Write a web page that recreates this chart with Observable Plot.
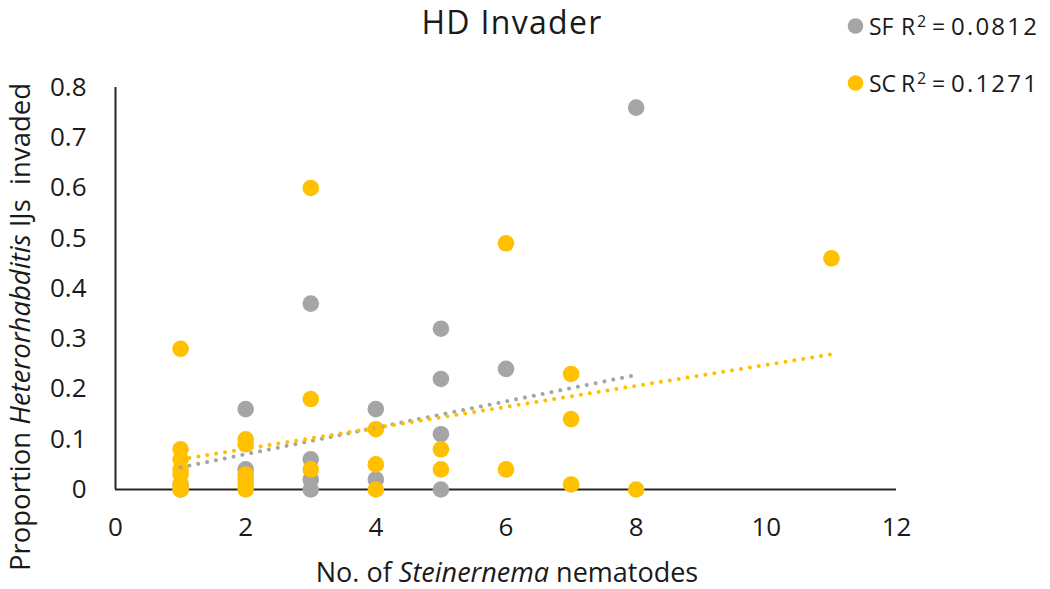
<!DOCTYPE html>
<html>
<head>
<meta charset="utf-8">
<script src="https://cdn.jsdelivr.net/npm/d3@7"></script>
<script src="https://cdn.jsdelivr.net/npm/@observablehq/plot@0.6"></script>
<style>
  html, body { margin: 0; padding: 0; background: #fff; }
  #chart svg { display: block; }
</style>
</head>
<body>
<div id="chart"></div>
<script>
// Steinernema feltiae (SF) observations
const sfCount = [1, 1, 2, 2, 3, 3, 3, 3, 4, 4, 5, 5, 5, 5, 6, 8];
const sfProp  = [0, 0.01, 0.16, 0.04, 0.37, 0.06, 0.02, 0, 0.16, 0.02, 0.32, 0.22, 0.11, 0, 0.24, 0.76];

// Steinernema carpocapsae (SC) observations
const scCount = [1, 1, 1, 1, 1, 1, 1, 2, 2, 2, 2, 2, 2, 3, 3, 3, 4, 4, 4, 5, 5, 6, 6, 7, 7, 7, 8, 11];
const scProp  = [0.28, 0.08, 0.06, 0.04, 0.03, 0.01, 0, 0.10, 0.09, 0.03, 0.02, 0.01, 0, 0.60, 0.18, 0.04, 0.12, 0.05, 0, 0.08, 0.04, 0.49, 0.04, 0.23, 0.14, 0.01, 0, 0.46];

// Linear trendline end points
const sfTrendX = [1, 8];
const sfTrendY = [0.044, 0.228];
const scTrendX = [1, 11];
const scTrendY = [0.06, 0.269];

// Legend entries
const seriesNames = ["SF", "SC"];
const rSquared = ["0.0812", "0.1271"];

// Axis ticks
const xTicks = [0, 2, 4, 6, 8, 10, 12];
const yTicks = [0, 0.1, 0.2, 0.3, 0.4, 0.5, 0.6, 0.7, 0.8];

const GREY = "#A5A5A5";
const GOLD = "#FFC000";
const INK = "#1a1a1a";
const FONT = "'Open Sans', sans-serif";

const sf = sfCount.map((x, i) => ({x, y: sfProp[i]}));
const sc = scCount.map((x, i) => ({x, y: scProp[i]}));
const sfTrend = sfTrendX.map((x, i) => ({x, y: sfTrendY[i]}));
const scTrend = scTrendX.map((x, i) => ({x, y: scTrendY[i]}));

const trendStyle = {x: "x", y: "y", strokeWidth: 4, strokeLinecap: "round", strokeDasharray: "0.01 9"};

const chart = Plot.plot({
  width: 1050,
  height: 589,
  marginTop: 87,
  marginBottom: 100,
  marginLeft: 115,
  marginRight: 154,
  style: {fontFamily: FONT, fontSize: "26px", color: INK, background: "#fff"},
  x: {domain: [0, 12]},
  y: {domain: [0, 0.8]},
  marks: [
    Plot.axisX({ticks: xTicks, tickSize: 0, tickPadding: 28, label: null, fontSize: 26}),
    Plot.axisY({ticks: yTicks, tickSize: 0, tickPadding: 29, label: null, fontSize: 26,
      tickFormat: d => d === 0 ? "0" : d3.format(".1f")(d)}),
    Plot.ruleX([0], {stroke: "#262626", strokeWidth: 2}),
    Plot.ruleY([0], {stroke: "#262626", strokeWidth: 2}),
    Plot.dot(sf, {x: "x", y: "y", r: 8.3, fill: GREY}),
    Plot.dot(sc, {x: "x", y: "y", r: 8.3, fill: GOLD}),
    Plot.line(sfTrend, {...trendStyle, stroke: GREY}),
    Plot.line(scTrend, {...trendStyle, stroke: GOLD})
  ]
});

const svg = d3.select(chart);

// Title
svg.append("text")
  .attr("x", 512).attr("y", 34)
  .attr("text-anchor", "middle")
  .attr("font-family", FONT).attr("font-size", 32)
  .attr("letter-spacing", 1.3)
  .attr("fill", INK)
  .text("HD Invader");

// Legend: marker, series name and R² of its trendline
const legendColors = [GREY, GOLD];
const legendY = [26, 83];
seriesNames.forEach((name, i) => {
  const cy = legendY[i];
  svg.append("circle")
    .attr("cx", 855.5).attr("cy", cy).attr("r", 7.8)
    .attr("fill", legendColors[i]);
  const t = svg.append("text")
    .attr("y", cy + 9)
    .attr("text-anchor", "start")
    .attr("font-family", FONT).attr("font-size", 23)
    .attr("fill", INK);
  t.append("tspan").attr("x", 869).text(name);
  t.append("tspan").attr("x", 901).text("R");
  t.append("tspan").attr("x", 917).attr("dy", -8).attr("font-size", 16).text("2");
  t.append("tspan").attr("x", 932).attr("dy", 8).text("=");
  t.append("tspan").attr("x", 951).attr("font-size", 24).attr("letter-spacing", 2.2).text(rSquared[i]);
});

// X axis title
const xTitle = svg.append("text")
  .attr("x", 507).attr("y", 582)
  .attr("text-anchor", "middle")
  .attr("font-family", FONT).attr("font-size", 27)
  .attr("fill", INK);
xTitle.append("tspan").text("No. of ");
xTitle.append("tspan").attr("font-style", "italic").text("Steinernema");
xTitle.append("tspan").text(" nematodes");

// Y axis title
const yTitle = svg.append("text")
  .attr("transform", "translate(30,327) rotate(-90)")
  .attr("text-anchor", "middle")
  .attr("font-family", FONT).attr("font-size", 27.5)
  .attr("fill", INK);
yTitle.append("tspan").text("Proportion ");
yTitle.append("tspan").attr("font-style", "italic").text("Heterorhabditis");
yTitle.append("tspan").text(" IJs  invaded");

document.getElementById("chart").appendChild(chart);
</script>
</body>
</html>
